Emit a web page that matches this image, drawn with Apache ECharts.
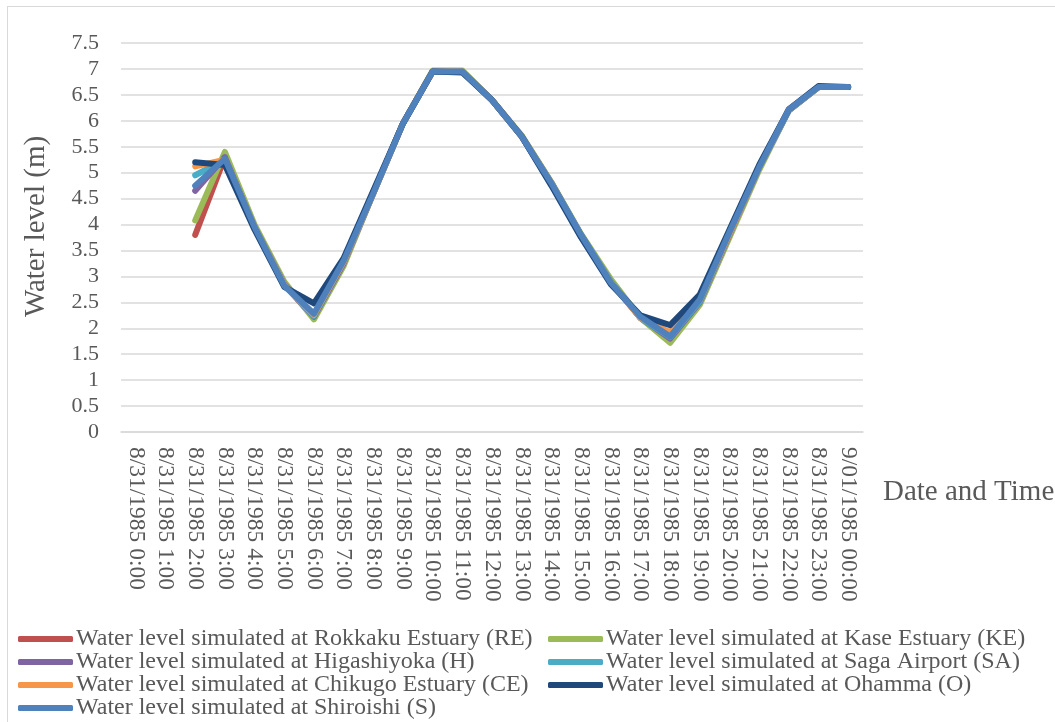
<!DOCTYPE html>
<html>
<head>
<meta charset="utf-8">
<title>Water level simulation</title>
<script src="https://cdn.jsdelivr.net/npm/echarts@6/dist/echarts.min.js"></script>
<style>
  html, body { margin: 0; padding: 0; background: #fff; }
  #frame { position: absolute; left: 7px; top: 6px; width: 1060px; height: 730px; border: 1px solid #d9d9d9; box-sizing: border-box; }
  #chart { position: absolute; left: 0; top: 0; width: 1055px; height: 722px; }
</style>
</head>
<body>
<div id="frame"></div>
<div id="chart"></div>
<script>
// Hourly timestamps, 8/31/1985 0:00 through 9/01/1985 00:00
const categories = [
  '8/31/1985 0:00', '8/31/1985 1:00', '8/31/1985 2:00', '8/31/1985 3:00',
  '8/31/1985 4:00', '8/31/1985 5:00', '8/31/1985 6:00', '8/31/1985 7:00',
  '8/31/1985 8:00', '8/31/1985 9:00', '8/31/1985 10:00', '8/31/1985 11:00',
  '8/31/1985 12:00', '8/31/1985 13:00', '8/31/1985 14:00', '8/31/1985 15:00',
  '8/31/1985 16:00', '8/31/1985 17:00', '8/31/1985 18:00', '8/31/1985 19:00',
  '8/31/1985 20:00', '8/31/1985 21:00', '8/31/1985 22:00', '8/31/1985 23:00',
  '9/01/1985 00:00'
];

// Simulated water levels (m) at each station; no output before 2:00
const rokkaku    = [null, null, 3.80, 5.30, 3.95, 2.85, 2.20, 3.25, 4.60, 5.95, 6.95, 6.95, 6.40, 5.70, 4.80, 3.80, 2.90, 2.20, 1.78, 2.50, 3.80, 5.10, 6.20, 6.65, 6.65];
const kase       = [null, null, 4.08, 5.40, 4.00, 2.90, 2.17, 3.20, 4.60, 5.95, 6.97, 6.97, 6.40, 5.72, 4.82, 3.82, 2.95, 2.20, 1.72, 2.45, 3.75, 5.05, 6.20, 6.65, 6.65];
const higashiyoka= [null, null, 4.65, 5.30, 3.95, 2.85, 2.22, 3.25, 4.60, 5.95, 6.95, 6.95, 6.40, 5.70, 4.80, 3.80, 2.90, 2.20, 1.80, 2.50, 3.80, 5.10, 6.20, 6.65, 6.65];
const sagaAirport= [null, null, 4.95, 5.25, 3.95, 2.83, 2.24, 3.28, 4.60, 5.95, 6.95, 6.95, 6.40, 5.70, 4.80, 3.80, 2.90, 2.20, 1.83, 2.52, 3.82, 5.10, 6.20, 6.65, 6.65];
const chikugo    = [null, null, 5.12, 5.25, 3.95, 2.83, 2.26, 3.28, 4.60, 5.95, 6.95, 6.95, 6.40, 5.70, 4.80, 3.78, 2.88, 2.20, 1.92, 2.55, 3.82, 5.10, 6.22, 6.65, 6.65];
const ohamma     = [null, null, 5.20, 5.15, 3.90, 2.80, 2.48, 3.35, 4.65, 5.95, 6.95, 6.93, 6.40, 5.70, 4.75, 3.75, 2.85, 2.25, 2.06, 2.65, 3.90, 5.15, 6.22, 6.67, 6.65];
const shiroishi  = [null, null, 4.75, 5.27, 3.95, 2.82, 2.28, 3.30, 4.60, 5.95, 6.95, 6.95, 6.40, 5.70, 4.80, 3.80, 2.88, 2.22, 1.84, 2.55, 3.85, 5.10, 6.22, 6.65, 6.65];

const seriesList = [
  { name: 'Water level simulated at Rokkaku Estuary (RE)', data: rokkaku,     color: '#C0504D' },
  { name: 'Water level simulated at Kase Estuary (KE)',    data: kase,        color: '#9BBB59' },
  { name: 'Water level simulated at Higashiyoka (H)',      data: higashiyoka, color: '#8064A2' },
  { name: 'Water level simulated at Saga Airport (SA)',    data: sagaAirport, color: '#4BACC6' },
  { name: 'Water level simulated at Chikugo Estuary (CE)', data: chikugo,     color: '#F79646' },
  { name: 'Water level simulated at Ohamma (O)',           data: ohamma,      color: '#1F497D' },
  { name: 'Water level simulated at Shiroishi (S)',        data: shiroishi,   color: '#4F81BD' }
];

const serif = '"Liberation Serif", "Times New Roman", serif';
const grey = '#595959';

const legendBase = {
  orient: 'vertical',
  icon: 'roundRect',
  itemWidth: 55,
  itemHeight: 6,
  itemGap: -1,
  height: 200,
  padding: [5, 5, 5, 5],
  textStyle: { fontFamily: serif, fontSize: 24, lineHeight: 22, color: grey, padding: [0, 0, 0, -2] },
  top: 622
};

const chart = echarts.init(document.getElementById('chart'), null, { renderer: 'canvas' });
chart.setOption({
  animation: false,
  backgroundColor: 'transparent',
  grid: { left: 121, right: 192, top: 43, bottom: 290, containLabel: false, outerBoundsMode: 'none' },
  legend: [
    Object.assign({}, legendBase, { left: 13, data: [seriesList[0].name, seriesList[2].name, seriesList[4].name, seriesList[6].name] }),
    Object.assign({}, legendBase, { left: 543, data: [seriesList[1].name, seriesList[3].name, seriesList[5].name] })
  ],
  xAxis: {
    type: 'category',
    data: categories,
    boundaryGap: true,
    name: 'Date and Time',
    nameLocation: 'end',
    nameGap: 20,
    nameTextStyle: { fontFamily: serif, fontSize: 29, color: grey, verticalAlign: 'top', align: 'left', padding: [46, 0, 0, 0] },
    axisLine: { show: true, lineStyle: { color: '#d9d9d9', width: 1.5 } },
    axisTick: { show: false },
    axisLabel: { rotate: -90, interval: 0, margin: 15, fontFamily: serif, fontSize: 23.5, color: grey }
  },
  yAxis: {
    type: 'value',
    min: 0,
    max: 7.5,
    interval: 0.5,
    name: 'Water level (m)',
    nameLocation: 'middle',
    nameRotate: 90,
    nameGap: 70,
    nameTextStyle: { fontFamily: serif, fontSize: 29, color: grey, padding: [0, 0, 0, 22] },
    axisLine: { show: false },
    axisTick: { show: false },
    splitLine: { lineStyle: { color: '#d9d9d9', width: 1.5 } },
    axisLabel: { margin: 22, fontFamily: serif, fontSize: 22, color: grey }
  },
  series: seriesList.map(s => ({
    name: s.name,
    type: 'line',
    data: s.data,
    symbol: 'none',
    connectNulls: false,
    color: s.color,
    lineStyle: { width: 6, color: s.color, cap: 'round', join: 'round' },
    itemStyle: { color: s.color }
  }))
});
</script>
</body>
</html>
